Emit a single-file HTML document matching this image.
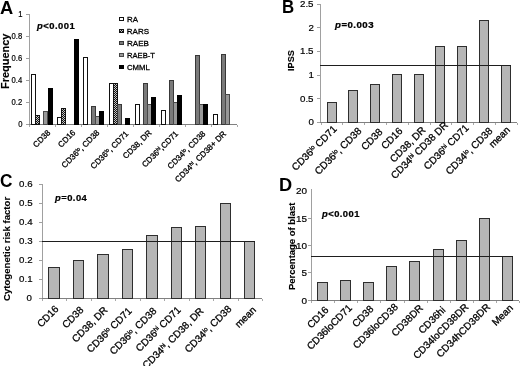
<!DOCTYPE html>
<html><head><meta charset="utf-8"><style>
html,body{margin:0;padding:0;background:#fff;overflow:hidden;}
body{width:520px;height:366px;position:relative;overflow:hidden;font-family:"Liberation Sans", sans-serif;color:#000;}
#w{position:absolute;left:0;top:0;width:520px;height:366px;filter:grayscale(1);}
#w>div{position:absolute;}
.t{white-space:nowrap;}
sup{font-size:0.62em;line-height:0;vertical-align:0.48em;}
</style></head><body><div id="w">
<div style="left:29.0px;top:14.0px;width:1.0px;height:111.0px;background:#a0a0a0"></div>
<div style="left:26.0px;top:124.0px;width:3.0px;height:1.0px;background:#a0a0a0"></div>
<div style="left:26.0px;top:102.0px;width:3.0px;height:1.0px;background:#a0a0a0"></div>
<div style="left:26.0px;top:80.0px;width:3.0px;height:1.0px;background:#a0a0a0"></div>
<div style="left:26.0px;top:58.0px;width:3.0px;height:1.0px;background:#a0a0a0"></div>
<div style="left:26.0px;top:36.0px;width:3.0px;height:1.0px;background:#a0a0a0"></div>
<div style="left:26.0px;top:14.0px;width:3.0px;height:1.0px;background:#a0a0a0"></div>
<div style="left:29.0px;top:124.0px;width:208.0px;height:1.0px;background:#808080"></div>
<div style="left:29.0px;top:125.0px;width:1.0px;height:2.0px;background:#a8a8a8"></div>
<div style="left:55.0px;top:125.0px;width:1.0px;height:2.0px;background:#a8a8a8"></div>
<div style="left:81.0px;top:125.0px;width:1.0px;height:2.0px;background:#a8a8a8"></div>
<div style="left:107.0px;top:125.0px;width:1.0px;height:2.0px;background:#a8a8a8"></div>
<div style="left:133.0px;top:125.0px;width:1.0px;height:2.0px;background:#a8a8a8"></div>
<div style="left:159.0px;top:125.0px;width:1.0px;height:2.0px;background:#a8a8a8"></div>
<div style="left:185.0px;top:125.0px;width:1.0px;height:2.0px;background:#a8a8a8"></div>
<div style="left:211.0px;top:125.0px;width:1.0px;height:2.0px;background:#a8a8a8"></div>
<div style="left:237.0px;top:125.0px;width:1.0px;height:2.0px;background:#a8a8a8"></div>
<div style="left:31.0px;top:74.0px;width:5.0px;height:51.0px;background:#ffffff;box-shadow:inset 0 0 0 1px #111"></div>
<div style="left:35.0px;top:115.0px;width:5.0px;height:10.0px;background:repeating-conic-gradient(#111 0 25%,#c4c4c4 0 50%) 0 0/2px 2px;box-shadow:inset 0 0 0 1px #111"></div>
<div style="left:43.0px;top:111.0px;width:5.0px;height:14.0px;background:#989898;box-shadow:inset 0 0 0 1px #484848"></div>
<div style="left:48.0px;top:88.0px;width:5.0px;height:37.0px;background:#000000;box-shadow:inset 0 0 0 1px #000"></div>
<div style="left:57.0px;top:117.0px;width:5.0px;height:8.0px;background:#ffffff;box-shadow:inset 0 0 0 1px #111"></div>
<div style="left:61.0px;top:108.0px;width:5.0px;height:17.0px;background:repeating-conic-gradient(#111 0 25%,#c4c4c4 0 50%) 0 0/2px 2px;box-shadow:inset 0 0 0 1px #111"></div>
<div style="left:74.0px;top:39.0px;width:5.0px;height:86.0px;background:#000000;box-shadow:inset 0 0 0 1px #000"></div>
<div style="left:83.0px;top:57.0px;width:5.0px;height:68.0px;background:#ffffff;box-shadow:inset 0 0 0 1px #111"></div>
<div style="left:91.0px;top:106.0px;width:5.0px;height:19.0px;background:#7a7a7a;box-shadow:inset 0 0 0 1px #383838"></div>
<div style="left:95.0px;top:116.0px;width:5.0px;height:9.0px;background:#989898;box-shadow:inset 0 0 0 1px #484848"></div>
<div style="left:99.0px;top:111.0px;width:5.0px;height:14.0px;background:#000000;box-shadow:inset 0 0 0 1px #000"></div>
<div style="left:109.0px;top:83.0px;width:5.0px;height:42.0px;background:#ffffff;box-shadow:inset 0 0 0 1px #111"></div>
<div style="left:113.0px;top:83.0px;width:5.0px;height:42.0px;background:repeating-conic-gradient(#111 0 25%,#c4c4c4 0 50%) 0 0/2px 2px;box-shadow:inset 0 0 0 1px #111"></div>
<div style="left:117.0px;top:104.0px;width:5.0px;height:21.0px;background:#7a7a7a;box-shadow:inset 0 0 0 1px #383838"></div>
<div style="left:125.0px;top:118.0px;width:5.0px;height:7.0px;background:#000000;box-shadow:inset 0 0 0 1px #000"></div>
<div style="left:135.0px;top:104.0px;width:5.0px;height:21.0px;background:#ffffff;box-shadow:inset 0 0 0 1px #111"></div>
<div style="left:143.0px;top:83.0px;width:5.0px;height:42.0px;background:#7a7a7a;box-shadow:inset 0 0 0 1px #383838"></div>
<div style="left:147.0px;top:104.0px;width:5.0px;height:21.0px;background:#989898;box-shadow:inset 0 0 0 1px #484848"></div>
<div style="left:151.0px;top:97.0px;width:5.0px;height:28.0px;background:#000000;box-shadow:inset 0 0 0 1px #000"></div>
<div style="left:161.0px;top:110.0px;width:5.0px;height:15.0px;background:#ffffff;box-shadow:inset 0 0 0 1px #111"></div>
<div style="left:169.0px;top:80.0px;width:5.0px;height:45.0px;background:#7a7a7a;box-shadow:inset 0 0 0 1px #383838"></div>
<div style="left:173.0px;top:102.0px;width:5.0px;height:23.0px;background:#989898;box-shadow:inset 0 0 0 1px #484848"></div>
<div style="left:177.0px;top:95.0px;width:5.0px;height:30.0px;background:#000000;box-shadow:inset 0 0 0 1px #000"></div>
<div style="left:195.0px;top:55.0px;width:5.0px;height:70.0px;background:#7a7a7a;box-shadow:inset 0 0 0 1px #383838"></div>
<div style="left:199.0px;top:104.0px;width:5.0px;height:21.0px;background:#989898;box-shadow:inset 0 0 0 1px #484848"></div>
<div style="left:203.0px;top:104.0px;width:5.0px;height:21.0px;background:#000000;box-shadow:inset 0 0 0 1px #000"></div>
<div style="left:213.0px;top:114.0px;width:5.0px;height:11.0px;background:#ffffff;box-shadow:inset 0 0 0 1px #111"></div>
<div style="left:221.0px;top:54.0px;width:5.0px;height:71.0px;background:#7a7a7a;box-shadow:inset 0 0 0 1px #383838"></div>
<div style="left:225.0px;top:94.0px;width:5.0px;height:31.0px;background:#989898;box-shadow:inset 0 0 0 1px #484848"></div>
<div style="left:119.0px;top:17.0px;width:5.0px;height:4.0px;background:#ffffff;box-shadow:inset 0 0 0 1px #111"></div>
<div style="left:119.0px;top:29.0px;width:5.0px;height:4.0px;background:repeating-conic-gradient(#111 0 25%,#c4c4c4 0 50%) 0 0/2px 2px;box-shadow:inset 0 0 0 1px #111"></div>
<div style="left:119.0px;top:41.0px;width:5.0px;height:4.0px;background:#7a7a7a;box-shadow:inset 0 0 0 1px #383838"></div>
<div style="left:119.0px;top:53.0px;width:5.0px;height:4.0px;background:#989898;box-shadow:inset 0 0 0 1px #484848"></div>
<div style="left:119.0px;top:65.0px;width:5.0px;height:4.0px;background:#000000;box-shadow:inset 0 0 0 1px #000"></div>
<div style="left:320.0px;top:4.0px;width:1.0px;height:119.0px;background:#a0a0a0"></div>
<div style="left:317.0px;top:122.0px;width:3.0px;height:1.0px;background:#a0a0a0"></div>
<div style="left:317.0px;top:98.0px;width:3.0px;height:1.0px;background:#a0a0a0"></div>
<div style="left:317.0px;top:75.0px;width:3.0px;height:1.0px;background:#a0a0a0"></div>
<div style="left:317.0px;top:51.0px;width:3.0px;height:1.0px;background:#a0a0a0"></div>
<div style="left:317.0px;top:27.0px;width:3.0px;height:1.0px;background:#a0a0a0"></div>
<div style="left:317.0px;top:4.0px;width:3.0px;height:1.0px;background:#a0a0a0"></div>
<div style="left:320.0px;top:122.0px;width:197.0px;height:1.0px;background:#808080"></div>
<div style="left:321.0px;top:123.0px;width:1.0px;height:2.0px;background:#a8a8a8"></div>
<div style="left:342.0px;top:123.0px;width:1.0px;height:2.0px;background:#a8a8a8"></div>
<div style="left:364.0px;top:123.0px;width:1.0px;height:2.0px;background:#a8a8a8"></div>
<div style="left:386.0px;top:123.0px;width:1.0px;height:2.0px;background:#a8a8a8"></div>
<div style="left:408.0px;top:123.0px;width:1.0px;height:2.0px;background:#a8a8a8"></div>
<div style="left:430.0px;top:123.0px;width:1.0px;height:2.0px;background:#a8a8a8"></div>
<div style="left:451.0px;top:123.0px;width:1.0px;height:2.0px;background:#a8a8a8"></div>
<div style="left:473.0px;top:123.0px;width:1.0px;height:2.0px;background:#a8a8a8"></div>
<div style="left:495.0px;top:123.0px;width:1.0px;height:2.0px;background:#a8a8a8"></div>
<div style="left:517.0px;top:123.0px;width:1.0px;height:2.0px;background:#a8a8a8"></div>
<div style="left:327.0px;top:102.0px;width:10.0px;height:21.0px;background:#b6b6b6;box-shadow:inset 0 0 0 1px #2e2e2e"></div>
<div style="left:348.0px;top:90.0px;width:10.0px;height:33.0px;background:#b6b6b6;box-shadow:inset 0 0 0 1px #2e2e2e"></div>
<div style="left:370.0px;top:84.0px;width:10.0px;height:39.0px;background:#b6b6b6;box-shadow:inset 0 0 0 1px #2e2e2e"></div>
<div style="left:392.0px;top:74.0px;width:10.0px;height:49.0px;background:#b6b6b6;box-shadow:inset 0 0 0 1px #2e2e2e"></div>
<div style="left:414.0px;top:74.0px;width:10.0px;height:49.0px;background:#b6b6b6;box-shadow:inset 0 0 0 1px #2e2e2e"></div>
<div style="left:435.0px;top:46.0px;width:10.0px;height:77.0px;background:#b6b6b6;box-shadow:inset 0 0 0 1px #2e2e2e"></div>
<div style="left:457.0px;top:46.0px;width:10.0px;height:77.0px;background:#b6b6b6;box-shadow:inset 0 0 0 1px #2e2e2e"></div>
<div style="left:479.0px;top:20.0px;width:10.0px;height:103.0px;background:#b6b6b6;box-shadow:inset 0 0 0 1px #2e2e2e"></div>
<div style="left:501.0px;top:65.0px;width:10.0px;height:58.0px;background:#b6b6b6;box-shadow:inset 0 0 0 1px #2e2e2e"></div>
<div style="left:320.0px;top:65.0px;width:191.0px;height:1.0px;background:#1e1e1e"></div>
<div style="left:42.0px;top:184.0px;width:1.0px;height:115.0px;background:#a0a0a0"></div>
<div style="left:39.0px;top:298.0px;width:3.0px;height:1.0px;background:#a0a0a0"></div>
<div style="left:39.0px;top:279.0px;width:3.0px;height:1.0px;background:#a0a0a0"></div>
<div style="left:39.0px;top:260.0px;width:3.0px;height:1.0px;background:#a0a0a0"></div>
<div style="left:39.0px;top:241.0px;width:3.0px;height:1.0px;background:#a0a0a0"></div>
<div style="left:39.0px;top:222.0px;width:3.0px;height:1.0px;background:#a0a0a0"></div>
<div style="left:39.0px;top:203.0px;width:3.0px;height:1.0px;background:#a0a0a0"></div>
<div style="left:39.0px;top:184.0px;width:3.0px;height:1.0px;background:#a0a0a0"></div>
<div style="left:42.0px;top:298.0px;width:220.0px;height:1.0px;background:#808080"></div>
<div style="left:42.0px;top:299.0px;width:1.0px;height:2.0px;background:#a8a8a8"></div>
<div style="left:66.0px;top:299.0px;width:1.0px;height:2.0px;background:#a8a8a8"></div>
<div style="left:91.0px;top:299.0px;width:1.0px;height:2.0px;background:#a8a8a8"></div>
<div style="left:115.0px;top:299.0px;width:1.0px;height:2.0px;background:#a8a8a8"></div>
<div style="left:140.0px;top:299.0px;width:1.0px;height:2.0px;background:#a8a8a8"></div>
<div style="left:164.0px;top:299.0px;width:1.0px;height:2.0px;background:#a8a8a8"></div>
<div style="left:189.0px;top:299.0px;width:1.0px;height:2.0px;background:#a8a8a8"></div>
<div style="left:213.0px;top:299.0px;width:1.0px;height:2.0px;background:#a8a8a8"></div>
<div style="left:238.0px;top:299.0px;width:1.0px;height:2.0px;background:#a8a8a8"></div>
<div style="left:262.0px;top:299.0px;width:1.0px;height:2.0px;background:#a8a8a8"></div>
<div style="left:48.0px;top:267.0px;width:12.0px;height:32.0px;background:#b6b6b6;box-shadow:inset 0 0 0 1px #2e2e2e"></div>
<div style="left:73.0px;top:260.0px;width:11.0px;height:39.0px;background:#b6b6b6;box-shadow:inset 0 0 0 1px #2e2e2e"></div>
<div style="left:97.0px;top:254.0px;width:12.0px;height:45.0px;background:#b6b6b6;box-shadow:inset 0 0 0 1px #2e2e2e"></div>
<div style="left:122.0px;top:249.0px;width:11.0px;height:50.0px;background:#b6b6b6;box-shadow:inset 0 0 0 1px #2e2e2e"></div>
<div style="left:146.0px;top:235.0px;width:12.0px;height:64.0px;background:#b6b6b6;box-shadow:inset 0 0 0 1px #2e2e2e"></div>
<div style="left:171.0px;top:227.0px;width:11.0px;height:72.0px;background:#b6b6b6;box-shadow:inset 0 0 0 1px #2e2e2e"></div>
<div style="left:195.0px;top:226.0px;width:11.0px;height:73.0px;background:#b6b6b6;box-shadow:inset 0 0 0 1px #2e2e2e"></div>
<div style="left:220.0px;top:203.0px;width:11.0px;height:96.0px;background:#b6b6b6;box-shadow:inset 0 0 0 1px #2e2e2e"></div>
<div style="left:244.0px;top:241.0px;width:11.0px;height:58.0px;background:#b6b6b6;box-shadow:inset 0 0 0 1px #2e2e2e"></div>
<div style="left:42.0px;top:241.0px;width:213.0px;height:1.0px;background:#1e1e1e"></div>
<div style="left:311.0px;top:189.0px;width:1.0px;height:112.0px;background:#a0a0a0"></div>
<div style="left:308.0px;top:300.0px;width:3.0px;height:1.0px;background:#a0a0a0"></div>
<div style="left:308.0px;top:272.0px;width:3.0px;height:1.0px;background:#a0a0a0"></div>
<div style="left:308.0px;top:245.0px;width:3.0px;height:1.0px;background:#a0a0a0"></div>
<div style="left:308.0px;top:218.0px;width:3.0px;height:1.0px;background:#a0a0a0"></div>
<div style="left:311.0px;top:300.0px;width:208.0px;height:1.0px;background:#808080"></div>
<div style="left:311.0px;top:301.0px;width:1.0px;height:2.0px;background:#a8a8a8"></div>
<div style="left:334.0px;top:301.0px;width:1.0px;height:2.0px;background:#a8a8a8"></div>
<div style="left:357.0px;top:301.0px;width:1.0px;height:2.0px;background:#a8a8a8"></div>
<div style="left:380.0px;top:301.0px;width:1.0px;height:2.0px;background:#a8a8a8"></div>
<div style="left:404.0px;top:301.0px;width:1.0px;height:2.0px;background:#a8a8a8"></div>
<div style="left:427.0px;top:301.0px;width:1.0px;height:2.0px;background:#a8a8a8"></div>
<div style="left:450.0px;top:301.0px;width:1.0px;height:2.0px;background:#a8a8a8"></div>
<div style="left:473.0px;top:301.0px;width:1.0px;height:2.0px;background:#a8a8a8"></div>
<div style="left:496.0px;top:301.0px;width:1.0px;height:2.0px;background:#a8a8a8"></div>
<div style="left:519.0px;top:301.0px;width:1.0px;height:2.0px;background:#a8a8a8"></div>
<div style="left:317.0px;top:282.0px;width:11.0px;height:19.0px;background:#b6b6b6;box-shadow:inset 0 0 0 1px #2e2e2e"></div>
<div style="left:340.0px;top:280.0px;width:11.0px;height:21.0px;background:#b6b6b6;box-shadow:inset 0 0 0 1px #2e2e2e"></div>
<div style="left:363.0px;top:282.0px;width:11.0px;height:19.0px;background:#b6b6b6;box-shadow:inset 0 0 0 1px #2e2e2e"></div>
<div style="left:386.0px;top:266.0px;width:11.0px;height:35.0px;background:#b6b6b6;box-shadow:inset 0 0 0 1px #2e2e2e"></div>
<div style="left:409.0px;top:261.0px;width:11.0px;height:40.0px;background:#b6b6b6;box-shadow:inset 0 0 0 1px #2e2e2e"></div>
<div style="left:433.0px;top:249.0px;width:11.0px;height:52.0px;background:#b6b6b6;box-shadow:inset 0 0 0 1px #2e2e2e"></div>
<div style="left:456.0px;top:240.0px;width:11.0px;height:61.0px;background:#b6b6b6;box-shadow:inset 0 0 0 1px #2e2e2e"></div>
<div style="left:479.0px;top:218.0px;width:11.0px;height:83.0px;background:#b6b6b6;box-shadow:inset 0 0 0 1px #2e2e2e"></div>
<div style="left:502.0px;top:256.0px;width:11.0px;height:45.0px;background:#b6b6b6;box-shadow:inset 0 0 0 1px #2e2e2e"></div>
<div style="left:311.0px;top:256.0px;width:202.0px;height:1.0px;background:#1e1e1e"></div>
<div class="t" style="left:0.0px;top:-0.39px;font-size:16px;line-height:16px;font-weight:bold;transform-origin:0 0;transform:scale(1.1429,1.0909);">A</div>
<div class="t" style="left:282.19px;top:-0.65px;font-size:16px;line-height:16px;font-weight:bold;transform-origin:0 0;transform:scale(1.0513,1.0945);">B</div>
<div class="t" style="left:0.19px;top:173.17px;font-size:16px;line-height:16px;font-weight:bold;transform-origin:0 0;transform:scale(1.0780,1.1087);">C</div>
<div class="t" style="left:279.05px;top:175.6px;font-size:16px;line-height:16px;font-weight:bold;transform-origin:0 0;transform:scale(1.1385,1.1545);">D</div>
<div class="t" style="left:37.45px;top:21.85px;font-size:9.3px;line-height:9.3px;font-weight:bold;letter-spacing:0.45px;-webkit-text-stroke:0.25px #000;transform-origin:0 0;transform:scale(1.0148,0.9941);"><i>p</i>&lt;0.001</div>
<div class="t" style="left:334.76px;top:21.11px;font-size:9.3px;line-height:9.3px;font-weight:bold;letter-spacing:0.45px;-webkit-text-stroke:0.25px #000;transform-origin:0 0;transform:scale(1.0405,0.9765);"><i>p</i>=0.003</div>
<div class="t" style="left:55.29px;top:194.37px;font-size:9.3px;line-height:9.3px;font-weight:bold;letter-spacing:0.45px;-webkit-text-stroke:0.25px #000;transform-origin:0 0;transform:scale(1.0110,0.9529);"><i>p</i>=0.04</div>
<div class="t" style="left:321.75px;top:210.16px;font-size:9.3px;line-height:9.3px;font-weight:bold;letter-spacing:0.45px;-webkit-text-stroke:0.25px #000;transform-origin:0 0;transform:scale(1.0094,0.9765);"><i>p</i>&lt;0.001</div>
<div class="t" style="left:1.15px;top:89.06px;font-size:10px;line-height:10px;font-weight:bold;-webkit-text-stroke:0.15px #000;transform-origin:0 0;transform:matrix(0,-1.0940,1.0270,0,0,0);">Frequency</div>
<div class="t" style="left:286.9px;top:70.98px;font-size:10px;line-height:10px;font-weight:bold;-webkit-text-stroke:0.15px #000;transform-origin:0 0;transform:matrix(0,-0.9136,0.9103,0,0,0);">IPSS</div>
<div class="t" style="left:3.32px;top:301.04px;font-size:10px;line-height:10px;font-weight:bold;-webkit-text-stroke:0.15px #000;transform-origin:0 0;transform:matrix(0,-0.9611,0.8842,0,0,0);">Cytogenetic risk factor</div>
<div class="t" style="left:288.32px;top:290.37px;font-size:10px;line-height:10px;font-weight:bold;-webkit-text-stroke:0.15px #000;transform-origin:0 0;transform:matrix(0,-0.9482,0.8842,0,0,0);">Percentage of blast</div>
<div class="t" style="left:126.78px;top:15.79px;font-size:8px;line-height:8px;font-weight:normal;-webkit-text-stroke:0.3px #000;transform-origin:0 0;transform:scale(0.9860,0.9391);">RA</div>
<div class="t" style="left:126.8px;top:27.96px;font-size:8px;line-height:8px;font-weight:normal;-webkit-text-stroke:0.3px #000;transform-origin:0 0;transform:scale(1.0000,0.9500);">RARS</div>
<div class="t" style="left:126.5px;top:39.9px;font-size:8px;line-height:8px;font-weight:normal;-webkit-text-stroke:0.3px #000;transform-origin:0 0;transform:scale(1.0095,1.0087);">RAEB</div>
<div class="t" style="left:126.52px;top:51.9px;font-size:8px;line-height:8px;font-weight:normal;-webkit-text-stroke:0.3px #000;transform-origin:0 0;transform:scale(0.9530,1.0087);">RAEB-T</div>
<div class="t" style="left:126.76px;top:64.17px;font-size:8px;line-height:8px;font-weight:normal;-webkit-text-stroke:0.3px #000;transform-origin:0 0;transform:scale(0.9720,0.9167);">CMML</div>
<div class="t" style="right:498.01px;top:120.64px;font-size:8px;line-height:8px;font-weight:normal;-webkit-text-stroke:0.2px #000;transform-origin:100% 0;transform:scale(0.9535,1.0333);">0</div>
<div class="t" style="right:498.01px;top:98.64px;font-size:8px;line-height:8px;font-weight:normal;-webkit-text-stroke:0.2px #000;transform-origin:100% 0;transform:scale(0.9535,1.0333);">0.2</div>
<div class="t" style="right:498.01px;top:76.64px;font-size:8px;line-height:8px;font-weight:normal;-webkit-text-stroke:0.2px #000;transform-origin:100% 0;transform:scale(0.9535,1.0333);">0.4</div>
<div class="t" style="right:498.01px;top:54.64px;font-size:8px;line-height:8px;font-weight:normal;-webkit-text-stroke:0.2px #000;transform-origin:100% 0;transform:scale(0.9535,1.0333);">0.6</div>
<div class="t" style="right:498.01px;top:32.64px;font-size:8px;line-height:8px;font-weight:normal;-webkit-text-stroke:0.2px #000;transform-origin:100% 0;transform:scale(0.9535,1.0333);">0.8</div>
<div class="t" style="right:498.01px;top:10.64px;font-size:8px;line-height:8px;font-weight:normal;-webkit-text-stroke:0.2px #000;transform-origin:100% 0;transform:scale(0.9535,1.0333);">1</div>
<div class="t" style="right:473.32px;top:128.9px;font-size:8.1px;line-height:8.1px;font-weight:normal;-webkit-text-stroke:0.3px #000;transform-origin:100% 0;transform:rotate(-45deg);">CD38</div>
<div class="t" style="right:448.52px;top:128.8px;font-size:8.1px;line-height:8.1px;font-weight:normal;-webkit-text-stroke:0.3px #000;transform-origin:100% 0;transform:rotate(-45deg);">CD16</div>
<div class="t" style="right:424.35px;top:128.8px;font-size:8.1px;line-height:8.1px;font-weight:normal;-webkit-text-stroke:0.3px #000;transform-origin:100% 0;transform:rotate(-45deg);">CD36<sup>lo</sup>, CD38</div>
<div class="t" style="right:395.24px;top:129.69px;font-size:8.1px;line-height:8.1px;font-weight:normal;-webkit-text-stroke:0.3px #000;transform-origin:100% 0;transform:rotate(-45deg);">CD36<sup>lo</sup>, CD71</div>
<div class="t" style="right:372.57px;top:129.05px;font-size:8.1px;line-height:8.1px;font-weight:normal;-webkit-text-stroke:0.3px #000;transform-origin:100% 0;transform:rotate(-45deg);">CD38, DR</div>
<div class="t" style="right:345.32px;top:129.7px;font-size:8.1px;line-height:8.1px;font-weight:normal;-webkit-text-stroke:0.3px #000;transform-origin:100% 0;transform:rotate(-45deg);">CD36<sup>hi</sup>,CD71</div>
<div class="t" style="right:318.05px;top:130.4px;font-size:8.1px;line-height:8.1px;font-weight:normal;-webkit-text-stroke:0.3px #000;transform-origin:100% 0;transform:rotate(-45deg);">CD34<sup>lo</sup>, CD38</div>
<div class="t" style="right:297.27px;top:130.04px;font-size:8.1px;line-height:8.1px;font-weight:normal;-webkit-text-stroke:0.3px #000;transform-origin:100% 0;transform:rotate(-45deg);">CD34<sup>hi</sup>, CD38+ DR</div>
<div class="t" style="right:206.3px;top:118.09px;font-size:9px;line-height:9px;font-weight:normal;-webkit-text-stroke:0.2px #000;transform-origin:100% 0;transform:scale(1.0833,0.9630);">0</div>
<div class="t" style="right:206.3px;top:94.51px;font-size:9px;line-height:9px;font-weight:normal;-webkit-text-stroke:0.2px #000;transform-origin:100% 0;transform:scale(1.0833,0.9630);">0.5</div>
<div class="t" style="right:206.3px;top:70.93px;font-size:9px;line-height:9px;font-weight:normal;-webkit-text-stroke:0.2px #000;transform-origin:100% 0;transform:scale(1.0833,0.9630);">1</div>
<div class="t" style="right:206.3px;top:47.35px;font-size:9px;line-height:9px;font-weight:normal;-webkit-text-stroke:0.2px #000;transform-origin:100% 0;transform:scale(1.0833,0.9630);">1.5</div>
<div class="t" style="right:206.3px;top:23.77px;font-size:9px;line-height:9px;font-weight:normal;-webkit-text-stroke:0.2px #000;transform-origin:100% 0;transform:scale(1.0833,0.9630);">2</div>
<div class="t" style="right:206.3px;top:0.19px;font-size:9px;line-height:9px;font-weight:normal;-webkit-text-stroke:0.2px #000;transform-origin:100% 0;transform:scale(1.0833,0.9630);">2.5</div>
<div class="t" style="right:188.12px;top:124.08px;font-size:10px;line-height:10px;font-weight:normal;-webkit-text-stroke:0.3px #000;transform-origin:100% 0;transform:rotate(-45deg);">CD36<sup>lo</sup> CD71</div>
<div class="t" style="right:163.75px;top:125.62px;font-size:10px;line-height:10px;font-weight:normal;-webkit-text-stroke:0.3px #000;transform-origin:100% 0;transform:rotate(-45deg);">CD36<sup>lo</sup>, CD38</div>
<div class="t" style="right:142.35px;top:127.12px;font-size:10px;line-height:10px;font-weight:normal;-webkit-text-stroke:0.3px #000;transform-origin:100% 0;transform:rotate(-45deg);">CD38</div>
<div class="t" style="right:122.55px;top:126.17px;font-size:10px;line-height:10px;font-weight:normal;-webkit-text-stroke:0.3px #000;transform-origin:100% 0;transform:rotate(-45deg);">CD16</div>
<div class="t" style="right:99.8px;top:124.67px;font-size:10px;line-height:10px;font-weight:normal;-webkit-text-stroke:0.3px #000;transform-origin:100% 0;transform:rotate(-45deg);">CD38, DR</div>
<div class="t" style="right:77.25px;top:120.17px;font-size:10px;line-height:10px;font-weight:normal;-webkit-text-stroke:0.3px #000;transform-origin:100% 0;transform:rotate(-45deg);">CD34<sup>hi</sup> CD38 DR</div>
<div class="t" style="right:56.22px;top:122.98px;font-size:10px;line-height:10px;font-weight:normal;-webkit-text-stroke:0.3px #000;transform-origin:100% 0;transform:rotate(-45deg);">CD36<sup>hi</sup> CD71</div>
<div class="t" style="right:32.35px;top:125.62px;font-size:10px;line-height:10px;font-weight:normal;-webkit-text-stroke:0.3px #000;transform-origin:100% 0;transform:rotate(-45deg);">CD34<sup>lo</sup>, CD38</div>
<div class="t" style="right:15.05px;top:125.42px;font-size:10px;line-height:10px;font-weight:normal;-webkit-text-stroke:0.3px #000;transform-origin:100% 0;transform:rotate(-45deg);">mean</div>
<div class="t" style="right:487.93px;top:293.55px;font-size:9px;line-height:9px;font-weight:normal;-webkit-text-stroke:0.2px #000;transform-origin:100% 0;transform:scale(1.0750,0.9333);">0</div>
<div class="t" style="right:487.93px;top:274.63px;font-size:9px;line-height:9px;font-weight:normal;-webkit-text-stroke:0.2px #000;transform-origin:100% 0;transform:scale(1.0750,0.9333);">0.1</div>
<div class="t" style="right:487.93px;top:255.71px;font-size:9px;line-height:9px;font-weight:normal;-webkit-text-stroke:0.2px #000;transform-origin:100% 0;transform:scale(1.0750,0.9333);">0.2</div>
<div class="t" style="right:487.93px;top:236.79px;font-size:9px;line-height:9px;font-weight:normal;-webkit-text-stroke:0.2px #000;transform-origin:100% 0;transform:scale(1.0750,0.9333);">0.3</div>
<div class="t" style="right:487.93px;top:217.87px;font-size:9px;line-height:9px;font-weight:normal;-webkit-text-stroke:0.2px #000;transform-origin:100% 0;transform:scale(1.0750,0.9333);">0.4</div>
<div class="t" style="right:487.93px;top:198.95px;font-size:9px;line-height:9px;font-weight:normal;-webkit-text-stroke:0.2px #000;transform-origin:100% 0;transform:scale(1.0750,0.9333);">0.5</div>
<div class="t" style="right:487.93px;top:180.03px;font-size:9px;line-height:9px;font-weight:normal;-webkit-text-stroke:0.2px #000;transform-origin:100% 0;transform:scale(1.0750,0.9333);">0.6</div>
<div class="t" style="right:466.89px;top:304.14px;font-size:10px;line-height:10px;font-weight:normal;-webkit-text-stroke:0.3px #000;transform-origin:100% 0;transform:rotate(-45deg);">CD16</div>
<div class="t" style="right:441.61px;top:304.99px;font-size:10px;line-height:10px;font-weight:normal;-webkit-text-stroke:0.3px #000;transform-origin:100% 0;transform:rotate(-45deg);">CD38</div>
<div class="t" style="right:417.88px;top:304.99px;font-size:10px;line-height:10px;font-weight:normal;-webkit-text-stroke:0.3px #000;transform-origin:100% 0;transform:rotate(-45deg);">CD38, DR</div>
<div class="t" style="right:393.62px;top:305.97px;font-size:10px;line-height:10px;font-weight:normal;-webkit-text-stroke:0.3px #000;transform-origin:100% 0;transform:rotate(-45deg);">CD36<sup>lo</sup> CD71</div>
<div class="t" style="right:368.55px;top:306.32px;font-size:10px;line-height:10px;font-weight:normal;-webkit-text-stroke:0.3px #000;transform-origin:100% 0;transform:rotate(-45deg);">CD36<sup>lo</sup>, CD38</div>
<div class="t" style="right:344.22px;top:304.78px;font-size:10px;line-height:10px;font-weight:normal;-webkit-text-stroke:0.3px #000;transform-origin:100% 0;transform:rotate(-45deg);">CD36<sup>hi</sup> CD71</div>
<div class="t" style="right:321.8px;top:305.78px;font-size:10px;line-height:10px;font-weight:normal;-webkit-text-stroke:0.3px #000;transform-origin:100% 0;transform:rotate(-45deg);">CD34<sup>hi</sup>, CD38, DR</div>
<div class="t" style="right:293.55px;top:304.03px;font-size:10px;line-height:10px;font-weight:normal;-webkit-text-stroke:0.3px #000;transform-origin:100% 0;transform:rotate(-45deg);">CD34<sup>lo</sup>, CD38</div>
<div class="t" style="right:268.85px;top:304.53px;font-size:10px;line-height:10px;font-weight:normal;-webkit-text-stroke:0.3px #000;transform-origin:100% 0;transform:rotate(-45deg);">mean</div>
<div class="t" style="right:212.64px;top:296.71px;font-size:9px;line-height:9px;font-weight:normal;-webkit-text-stroke:0.2px #000;transform-origin:100% 0;transform:scale(1.1027,0.9778);">0</div>
<div class="t" style="right:212.64px;top:269.36px;font-size:9px;line-height:9px;font-weight:normal;-webkit-text-stroke:0.2px #000;transform-origin:100% 0;transform:scale(1.1027,0.9778);">5</div>
<div class="t" style="right:212.64px;top:242.01px;font-size:9px;line-height:9px;font-weight:normal;-webkit-text-stroke:0.2px #000;transform-origin:100% 0;transform:scale(1.1027,0.9778);">10</div>
<div class="t" style="right:212.64px;top:214.66px;font-size:9px;line-height:9px;font-weight:normal;-webkit-text-stroke:0.2px #000;transform-origin:100% 0;transform:scale(1.1027,0.9778);">15</div>
<div class="t" style="right:212.64px;top:187.31px;font-size:9px;line-height:9px;font-weight:normal;-webkit-text-stroke:0.2px #000;transform-origin:100% 0;transform:scale(1.1027,0.9778);">20</div>
<div class="t" style="right:196.87px;top:304.75px;font-size:10px;line-height:10px;font-weight:normal;-webkit-text-stroke:0.3px #000;transform-origin:100% 0;transform:rotate(-45deg);">CD16</div>
<div class="t" style="right:173.0px;top:303.28px;font-size:10px;line-height:10px;font-weight:normal;-webkit-text-stroke:0.3px #000;transform-origin:100% 0;transform:rotate(-45deg);">CD36loCD71</div>
<div class="t" style="right:151.21px;top:304.39px;font-size:10px;line-height:10px;font-weight:normal;-webkit-text-stroke:0.3px #000;transform-origin:100% 0;transform:rotate(-45deg);">CD38</div>
<div class="t" style="right:127.06px;top:302.26px;font-size:10px;line-height:10px;font-weight:normal;-webkit-text-stroke:0.3px #000;transform-origin:100% 0;transform:rotate(-45deg);">CD36loCD38</div>
<div class="t" style="right:102.18px;top:303.07px;font-size:10px;line-height:10px;font-weight:normal;-webkit-text-stroke:0.3px #000;transform-origin:100% 0;transform:rotate(-45deg);">CD38DR</div>
<div class="t" style="right:79.45px;top:304.76px;font-size:10px;line-height:10px;font-weight:normal;-webkit-text-stroke:0.3px #000;transform-origin:100% 0;transform:rotate(-45deg);">CD36hi</div>
<div class="t" style="right:56.35px;top:301.78px;font-size:10px;line-height:10px;font-weight:normal;-webkit-text-stroke:0.3px #000;transform-origin:100% 0;transform:rotate(-45deg);">CD34loCD38DR</div>
<div class="t" style="right:34.7px;top:301.78px;font-size:10px;line-height:10px;font-weight:normal;-webkit-text-stroke:0.3px #000;transform-origin:100% 0;transform:rotate(-45deg);">CD34hCD38DR</div>
<div class="t" style="right:11.85px;top:302.86px;font-size:10px;line-height:10px;font-weight:normal;-webkit-text-stroke:0.3px #000;transform-origin:100% 0;transform:rotate(-45deg);">Mean</div>
</div></body></html>
